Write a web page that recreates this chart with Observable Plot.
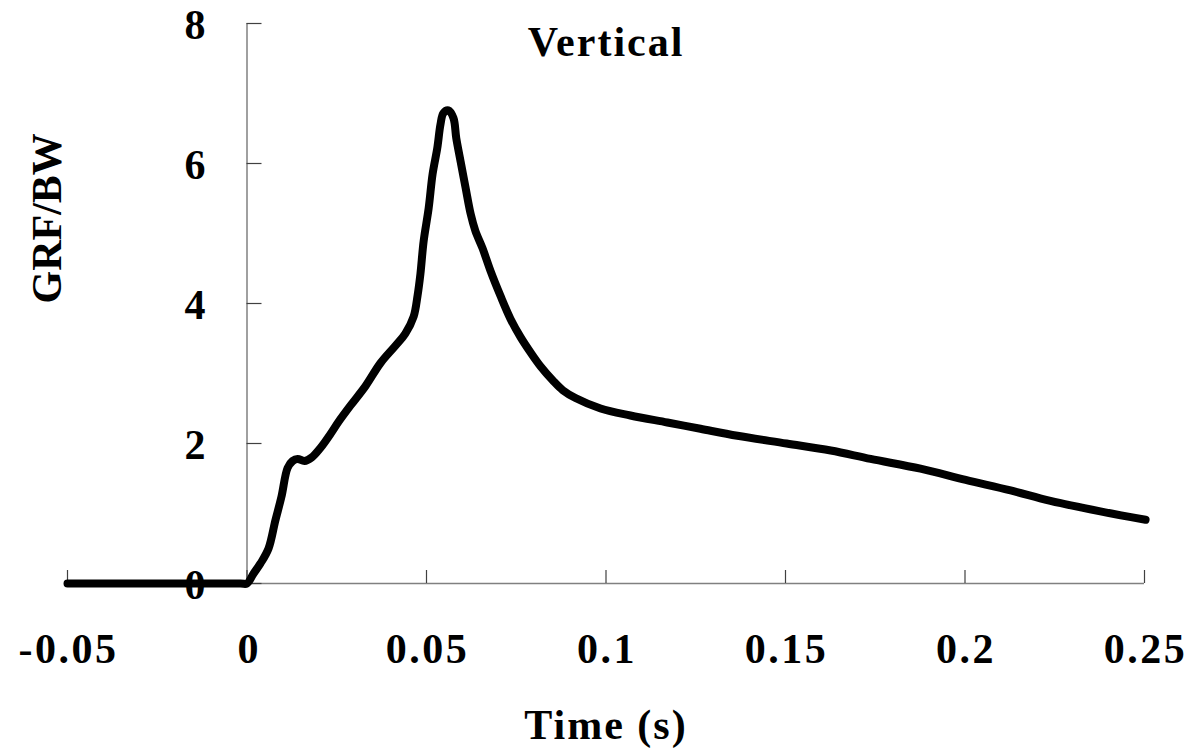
<!DOCTYPE html>
<html><head><meta charset="utf-8">
<script src="https://cdn.jsdelivr.net/npm/d3@7"></script>
<script src="https://cdn.jsdelivr.net/npm/@observablehq/plot@0.6"></script>
<style>body{margin:0;background:#fff} svg{display:block}</style>
</head><body><div id="chart"></div>
<script>
const times = [-0.05, -0.0018, 0, 0.0018, 0.0038, 0.006, 0.0079, 0.0096, 0.0113, 0.0127, 0.0141, 0.016, 0.018, 0.0205, 0.0233, 0.0255, 0.0288, 0.033, 0.0372, 0.0414, 0.0441, 0.0464, 0.0475, 0.0483, 0.0492, 0.0506, 0.0517, 0.053, 0.0539, 0.0547, 0.0561, 0.0575, 0.0583, 0.0595, 0.0609, 0.0623, 0.0636, 0.0656, 0.0678, 0.0706, 0.0734, 0.0762, 0.079, 0.0818, 0.0852, 0.088, 0.0915, 0.0985, 0.1068, 0.1171, 0.1263, 0.1366, 0.1503, 0.1626, 0.1737, 0.1876, 0.2002, 0.2127, 0.2238, 0.2377, 0.2503];
const grfBw = [0, 0, 0.0, 0.14, 0.29, 0.50, 0.90, 1.24, 1.65, 1.75, 1.78, 1.75, 1.80, 1.94, 2.14, 2.31, 2.54, 2.82, 3.15, 3.40, 3.57, 3.81, 4.11, 4.42, 4.89, 5.36, 5.85, 6.22, 6.56, 6.72, 6.76, 6.65, 6.36, 6.03, 5.65, 5.28, 5.04, 4.79, 4.47, 4.11, 3.78, 3.52, 3.30, 3.10, 2.90, 2.76, 2.65, 2.50, 2.40, 2.30, 2.21, 2.11, 2.00, 1.90, 1.78, 1.64, 1.48, 1.33, 1.18, 1.03, 0.91];
const xTicks = [-0.05, 0, 0.05, 0.1, 0.15, 0.2, 0.25];
const xTickLabels = ["-0.05", "0", "0.05", "0.1", "0.15", "0.2", "0.25"];
const yTicks = [0, 2, 4, 6, 8];
const yTickLabels = ["0", "2", "4", "6", "8"];
const titleText = "Vertical";
const xLabel = "Time (s)";
const yLabel = "GRF/BW";

const series = times.map((t, i) => ({t, v: grfBw[i]}));
const font = {fontFamily: "Liberation Serif, Times New Roman, serif", fontWeight: "bold", fontSize: 42, fill: "black"};

const chart = Plot.plot({
  width: 1193, height: 750,
  marginLeft: 67, marginRight: 49, marginTop: 23, marginBottom: 167,
  x: {domain: [-0.05, 0.25], axis: null},
  y: {domain: [0, 8], axis: null},
  marks: [
    Plot.ruleY([0], {stroke: "#808080", strokeWidth: 1.5}),
    Plot.ruleX([0], {stroke: "#808080", strokeWidth: 1.5}),
    Plot.ruleX(xTicks, {x: d => d, y1: 0, y2: 0, insetTop: -13, stroke: "#404040", strokeWidth: 1.2}),
    Plot.ruleY(yTicks, {y: d => d, x1: 0, x2: 0, insetRight: -15, stroke: "#404040", strokeWidth: 1.2}),
    Plot.text(xTicks, {x: d => d, y: 0, dy: 65.6, dx: 1, text: (d, i) => xTickLabels[i], textAnchor: "middle", lineAnchor: "middle", ...font}),
    Plot.text(yTicks, {x: 0, y: d => d, dx: -41.5, dy: 2, text: (d, i) => yTickLabels[i], textAnchor: "end", lineAnchor: "middle", ...font}),
    Plot.text([titleText], {frameAnchor: "top", dy: 18.6, text: d => d, lineAnchor: "middle", ...font}),
    Plot.text([xLabel], {frameAnchor: "bottom", dy: 141.6, text: d => d, lineAnchor: "middle", ...font}),
    Plot.text([yLabel], {frameAnchor: "left", dx: -20.4, rotate: -90, text: d => d, lineAnchor: "middle", ...font}),
    Plot.line(series, {x: "t", y: "v", stroke: "black", strokeWidth: 8, strokeLinejoin: "round", strokeLinecap: "round", curve: "catmull-rom"})
  ]
});
d3.select(chart).selectAll("text").each(function() {
  const s = this.textContent;
  if (s === titleText || s === xLabel) this.style.letterSpacing = "2px";
  else if (xTickLabels.includes(s) && s.length > 1) this.style.letterSpacing = "2.5px";
});
document.getElementById("chart").appendChild(chart);
</script>
</body></html>
